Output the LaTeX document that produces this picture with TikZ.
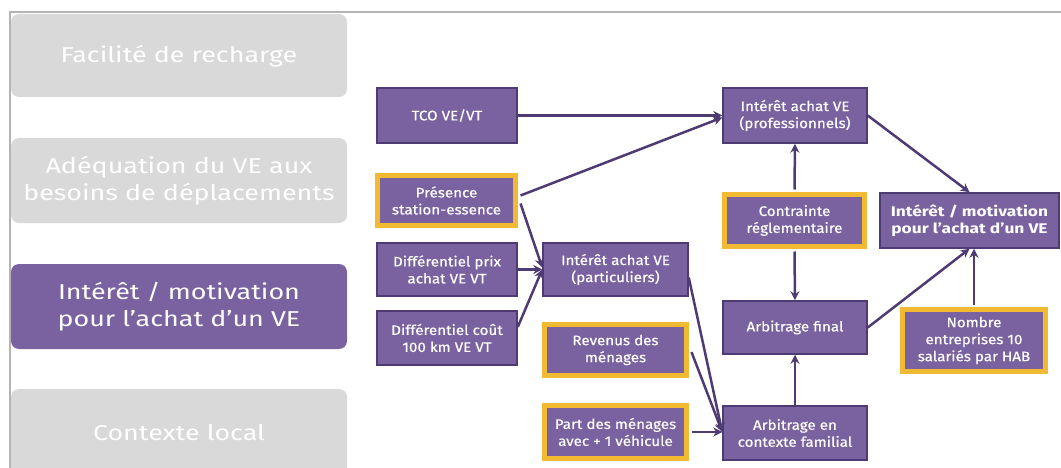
\documentclass[tikz,border=0pt]{standalone}
\usepackage{fontspec}
\setmainfont{Fira Sans}[FakeStretch=1.25]
\newfontfamily\boxfont{Fira Sans}[FakeStretch=1.1, FakeBold=0.4]
\newfontfamily\boldboxfont{Fira Sans}[FakeStretch=1.24]
\usetikzlibrary{arrows.meta,calc}
\definecolor{pgray}{HTML}{D9D9D9}
\definecolor{pfill}{HTML}{7A62A0}
\definecolor{pdark}{HTML}{4E3B73}
\definecolor{pyel}{HTML}{F2B933}
\definecolor{pframe}{HTML}{B4B4B4}
\tikzset{
  sidebox/.style={fill=pgray, rounded corners=8pt, draw=none},
  sidetext/.style={text=white, align=center, font=\fontsize{21.5}{27}\selectfont},
  pbox/.style={fill=pfill, draw=pdark, line width=1.5pt, text=white, align=center,
     font=\boxfont\fontsize{13.8}{17}\selectfont, inner sep=0pt},
  ybox/.style={pbox, draw=pyel, line width=5pt},
  conn/.style={draw=pdark, line width=2.5pt, -{Stealth[length=9pt,width=9pt]}}
}
\begin{document}
\begin{tikzpicture}[x=1pt,y=-1pt]
\useasboundingbox (0,0) rectangle (1061,468);
\begin{scope}
\clip (0,0) rectangle (1061,468);
% frame
\draw[pframe, line width=1.5pt] (10,470) -- (10,12) -- (1062,12);
% side boxes
\fill[sidebox] (11,14) rectangle (347,97);
\fill[sidebox] (11,138) rectangle (347,223);
\fill[sidebox, fill=pfill] (11,264) rectangle (347,349);
\fill[sidebox] (11,389) rectangle (347,482);
\node[sidetext] (s1) at (179,56) {Facilité de recharge};
\node[sidetext] (s2) at (179,181) {Adéquation du VE aux\\besoins de déplacements};
\node[sidetext] (s3) at (179,307) {Intérêt / motivation\\pour l’achat d’un VE};
\node[sidetext] (s4) at (179,433) {Contexte local};
% diagram nodes
\node[pbox, minimum width=140pt, minimum height=55pt] (tco) at (447,115.5) {TCO VE/VT};
\node[ybox, minimum width=138pt, minimum height=50pt] (pres) at (446.5,200.5) {Présence\\station-essence};
\node[pbox, minimum width=140pt, minimum height=53pt] (dprix) at (447,269.5) {Différentiel prix\\achat VE VT};
\node[pbox, minimum width=140pt, minimum height=54pt] (dcout) at (447,338) {Différentiel coût\\100 km VE VT};
\node[pbox, minimum width=145pt, minimum height=53pt] (parti) at (615.5,269.5) {Intérêt achat VE\\(particuliers)};
\node[ybox, minimum width=142pt, minimum height=51pt] (rev) at (615.5,350) {Revenus des\\ménages};
\node[ybox, minimum width=142pt, minimum height=53pt] (partm) at (615.5,432) {Part des ménages\\avec + 1 véhicule};
\node[pbox, minimum width=144pt, minimum height=55pt] (prof) at (795,115.5) {Intérêt achat VE\\(professionnels)};
\node[ybox, minimum width=140pt, minimum height=52pt] (contr) at (794.5,220.5) {Contrainte\\réglementaire};
\node[pbox, minimum width=144pt, minimum height=53pt] (final) at (795,327.5) {Arbitrage final};
\node[pbox, minimum width=144pt, minimum height=54pt] (fam) at (795,433) {Arbitrage en\\contexte familial};
\node[pbox, minimum width=179pt, minimum height=55pt, font=\boldboxfont\bfseries\fontsize{14}{17}\selectfont] (right) at (969.5,220.5) {Intérêt / motivation\\pour l’achat d’un VE};
\node[ybox, minimum width=143pt, minimum height=62pt] (nomb) at (974,340.5) {Nombre\\entreprises 10\\salariés par HAB};
% connectors
\draw[conn] (tco.east) -- (prof.west);
\draw[conn] ($(pres.east)+(2.5,-5)$) -- ($(prof.west)+(0,2)$);
\draw[conn] ($(pres.east)+(2.5,3)$) -- ($(parti.west)+(0,-2)$);
\draw[conn] (dprix.east) -- (parti.west);
\draw[conn] ($(dcout.east)+(0,-11)$) -- (parti.west);
\draw[conn] ($(parti.east)+(0,8)$) -- ($(fam.west)+(0,-1)$);
\draw[conn] ($(rev.east)+(2.5,2)$) -- ($(fam.west)+(0,-1)$);
\draw[conn] ($(partm.east)+(2.5,0)$) -- ($(fam.west)+(0,-1)$);
\draw[conn] (fam.north) -- (final.south);
\draw[conn] ($(contr.north)+(0,-2.5)$) -- (prof.south);
\draw[conn] ($(contr.south)+(0,2.5)$) -- (final.north);
\draw[conn] (prof.east) -- (right.north);
\draw[conn] (final.east) -- (right.south);
\draw[conn] ($(nomb.north)+(0,-2.5)$) -- (nomb.north |- right.south);
\end{scope}
\end{tikzpicture}
\end{document}
